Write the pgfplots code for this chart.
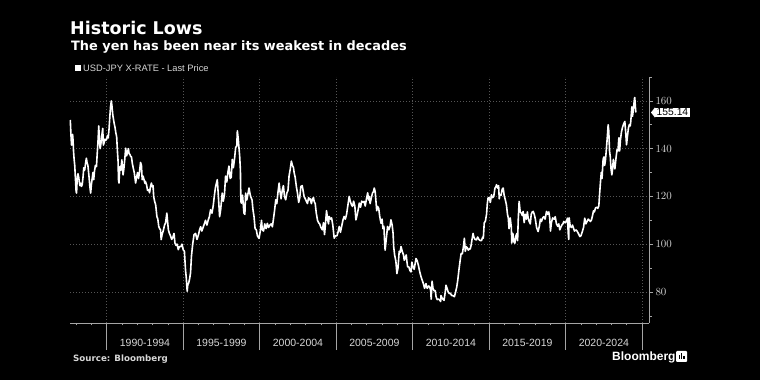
\documentclass[border=0pt]{standalone}
\usepackage{pgfplots}
\pgfplotsset{compat=1.18}
\usepackage{fontspec}
\setmainfont{Liberation Sans}
\newfontfamily\titlefont{DejaVu Sans}
\definecolor{gridc}{RGB}{85,85,85}
\definecolor{axc}{RGB}{165,165,165}
\definecolor{labc}{RGB}{215,215,215}
\pgfplotstableread{
x y
1987.62 152.0
1987.66 146.0
1987.70 141.5
1987.74 142.5
1987.77 146.0
1987.80 143.5
1987.83 139.0
1987.87 135.5
1987.91 133.0
1987.95 128.0
1988.00 122.0
1988.03 121.4
1988.07 127.5
1988.12 129.5
1988.17 128.0
1988.21 126.0
1988.25 124.5
1988.30 125.5
1988.35 124.2
1988.40 125.0
1988.45 128.0
1988.50 132.0
1988.56 131.0
1988.62 134.0
1988.67 136.0
1988.72 134.0
1988.77 133.0
1988.84 128.5
1988.90 124.0
1988.95 121.4
1989.00 125.0
1989.05 127.5
1989.10 130.0
1989.15 127.0
1989.20 130.5
1989.26 133.0
1989.33 132.5
1989.38 138.0
1989.43 143.0
1989.48 149.5
1989.52 144.0
1989.57 140.0
1989.62 142.0
1989.67 145.0
1989.74 148.5
1989.78 141.5
1989.83 142.5
1989.88 144.0
1989.93 143.5
1990.00 144.0
1990.05 145.5
1990.10 144.5
1990.15 148.0
1990.20 153.0
1990.25 157.5
1990.30 160.0
1990.34 158.0
1990.40 154.0
1990.45 152.0
1990.49 150.5
1990.54 149.0
1990.60 146.5
1990.65 145.0
1990.70 139.0
1990.74 135.0
1990.77 127.0
1990.80 125.6
1990.86 132.5
1990.92 131.0
1990.99 135.3
1991.03 132.0
1991.07 129.0
1991.12 131.5
1991.18 135.5
1991.24 140.2
1991.30 137.0
1991.36 138.5
1991.42 140.0
1991.46 138.0
1991.52 137.5
1991.57 136.7
1991.62 136.5
1991.67 134.0
1991.73 132.0
1991.80 130.0
1991.89 125.6
1991.95 128.0
1992.02 130.0
1992.08 127.5
1992.14 130.0
1992.21 134.2
1992.27 133.0
1992.32 127.0
1992.38 128.5
1992.44 127.0
1992.50 125.5
1992.53 126.3
1992.60 125.0
1992.67 122.5
1992.75 122.8
1992.80 121.5
1992.86 124.0
1992.92 125.6
1992.98 124.0
1993.03 124.5
1993.07 120.0
1993.13 118.0
1993.20 116.5
1993.28 111.6
1993.34 110.5
1993.40 107.5
1993.46 106.5
1993.52 106.0
1993.56 101.9
1993.62 104.0
1993.71 106.0
1993.78 108.0
1993.85 109.0
1993.93 113.0
1994.03 106.0
1994.10 104.5
1994.17 103.5
1994.25 102.0
1994.33 103.0
1994.40 104.5
1994.46 100.5
1994.53 99.5
1994.60 100.0
1994.68 97.7
1994.75 99.0
1994.85 99.0
1994.92 100.0
1995.00 97.7
1995.08 97.0
1995.15 89.3
1995.20 86.0
1995.26 80.3
1995.30 83.0
1995.36 83.8
1995.42 85.5
1995.48 88.0
1995.54 95.0
1995.62 100.0
1995.71 104.0
1995.81 104.5
1995.90 102.0
1996.00 104.0
1996.07 106.0
1996.14 107.3
1996.22 105.5
1996.30 107.0
1996.38 108.5
1996.46 110.0
1996.55 108.0
1996.63 110.0
1996.71 111.5
1996.79 114.4
1996.88 113.0
1996.96 116.0
1997.05 121.0
1997.12 124.2
1997.23 127.0
1997.30 120.0
1997.38 111.5
1997.45 114.5
1997.55 121.4
1997.62 118.0
1997.70 121.0
1997.77 128.5
1997.85 126.0
1997.92 130.0
1997.99 132.7
1998.07 127.5
1998.14 128.0
1998.21 135.5
1998.28 132.0
1998.36 136.0
1998.43 140.5
1998.50 141.0
1998.54 147.5
1998.60 144.0
1998.69 137.0
1998.74 131.0
1998.77 118.0
1998.80 117.2
1998.88 120.5
1998.97 113.0
1999.03 112.5
1999.08 121.4
1999.16 118.5
1999.23 121.0
1999.30 123.5
1999.37 121.0
1999.41 120.0
1999.50 118.5
1999.56 114.5
1999.63 111.5
1999.70 106.5
1999.78 106.0
1999.85 103.5
1999.96 102.4
2000.05 106.0
2000.12 110.0
2000.17 106.0
2000.25 105.5
2000.33 108.5
2000.42 106.5
2000.50 108.7
2000.58 107.0
2000.67 108.0
2000.75 108.5
2000.83 107.3
2000.92 111.5
2000.98 114.5
2001.05 118.6
2001.12 117.0
2001.20 122.0
2001.27 125.6
2001.33 122.0
2001.40 119.0
2001.48 122.8
2001.55 124.5
2001.62 120.0
2001.70 118.6
2001.78 121.5
2001.85 122.5
2001.92 128.5
2002.00 131.5
2002.07 134.8
2002.14 133.0
2002.21 132.0
2002.25 130.0
2002.32 128.0
2002.40 124.0
2002.47 121.4
2002.55 117.5
2002.62 119.5
2002.69 124.2
2002.78 124.5
2002.85 122.0
2002.90 120.0
2002.98 119.0
2003.05 118.0
2003.12 117.0
2003.20 119.5
2003.25 118.6
2003.30 119.0
2003.38 117.0
2003.45 119.0
2003.52 119.5
2003.56 117.9
2003.63 117.0
2003.70 113.0
2003.78 110.0
2003.85 109.0
2003.92 108.5
2004.00 107.0
2004.10 106.0
2004.17 109.0
2004.24 104.0
2004.28 107.0
2004.37 114.0
2004.45 110.0
2004.50 108.5
2004.54 111.6
2004.62 110.5
2004.70 111.0
2004.78 108.0
2004.87 102.5
2004.95 103.5
2005.05 103.5
2005.12 105.0
2005.20 107.4
2005.28 105.0
2005.36 107.5
2005.44 110.0
2005.52 111.6
2005.60 110.5
2005.68 112.5
2005.76 116.0
2005.85 120.0
2005.92 118.0
2006.00 116.5
2006.07 115.8
2006.14 118.0
2006.22 116.0
2006.29 110.2
2006.36 112.0
2006.44 114.5
2006.51 117.2
2006.59 115.5
2006.67 118.0
2006.75 117.5
2006.83 117.9
2006.90 116.0
2006.98 119.0
2007.06 121.5
2007.12 118.5
2007.16 120.0
2007.22 117.0
2007.30 119.5
2007.38 121.5
2007.44 122.0
2007.49 123.5
2007.55 122.0
2007.60 118.0
2007.65 114.0
2007.71 115.8
2007.78 115.0
2007.85 111.5
2007.93 108.8
2008.00 110.5
2008.06 106.5
2008.12 107.5
2008.17 100.5
2008.20 97.5
2008.28 102.5
2008.36 107.4
2008.44 106.0
2008.52 107.5
2008.58 110.2
2008.66 108.0
2008.72 104.5
2008.76 99.0
2008.82 95.5
2008.90 93.0
2008.97 87.7
2009.04 90.0
2009.12 97.0
2009.18 96.5
2009.24 99.0
2009.32 97.0
2009.40 95.5
2009.45 93.3
2009.52 94.5
2009.58 95.5
2009.62 93.0
2009.67 90.5
2009.75 90.5
2009.82 89.0
2009.89 88.4
2009.95 92.5
2010.02 90.5
2010.10 89.5
2010.18 92.5
2010.22 94.0
2010.30 93.0
2010.38 91.0
2010.46 88.5
2010.55 86.3
2010.62 85.0
2010.70 83.5
2010.78 81.5
2010.87 83.5
2010.95 81.5
2011.05 82.5
2011.12 82.0
2011.18 80.5
2011.21 77.0
2011.27 84.5
2011.33 81.5
2011.40 80.5
2011.48 80.5
2011.53 78.0
2011.60 76.8
2011.67 77.0
2011.75 76.8
2011.83 76.0
2011.85 78.5
2011.92 77.5
2011.98 77.0
2012.05 76.5
2012.12 79.5
2012.18 82.8
2012.25 81.5
2012.32 80.0
2012.40 79.3
2012.46 79.5
2012.55 78.5
2012.62 78.5
2012.73 78.0
2012.80 79.8
2012.88 82.0
2012.95 85.0
2013.03 89.5
2013.10 93.0
2013.17 96.1
2013.25 96.0
2013.32 99.0
2013.38 102.5
2013.44 97.0
2013.50 99.0
2013.57 98.5
2013.64 97.5
2013.70 98.0
2013.76 98.0
2013.82 99.5
2013.88 102.0
2013.95 104.5
2014.00 103.0
2014.08 102.0
2014.17 101.8
2014.25 103.0
2014.33 102.0
2014.42 101.5
2014.50 101.5
2014.58 103.0
2014.62 102.5
2014.68 109.0
2014.75 109.5
2014.83 112.5
2014.88 117.0
2014.93 119.3
2015.00 119.5
2015.08 117.5
2015.15 120.7
2015.22 119.5
2015.30 120.0
2015.38 123.5
2015.44 124.0
2015.48 124.9
2015.55 123.5
2015.62 124.5
2015.66 119.0
2015.70 120.7
2015.78 120.5
2015.85 123.0
2015.92 123.5
2015.98 120.5
2016.06 118.5
2016.13 116.5
2016.20 112.5
2016.25 111.0
2016.30 106.5
2016.38 111.0
2016.45 107.0
2016.48 100.5
2016.55 104.5
2016.62 101.0
2016.68 100.4
2016.75 103.5
2016.82 104.5
2016.86 101.5
2016.90 110.0
2016.96 117.9
2017.03 113.5
2017.10 113.0
2017.17 112.0
2017.22 113.7
2017.29 109.0
2017.36 112.5
2017.43 110.5
2017.50 113.5
2017.55 110.9
2017.62 109.5
2017.69 108.5
2017.75 112.5
2017.82 113.5
2017.88 113.7
2017.95 112.5
2018.02 110.5
2018.10 107.0
2018.20 105.3
2018.28 107.5
2018.35 110.5
2018.42 109.5
2018.50 111.0
2018.58 111.5
2018.66 110.5
2018.75 113.7
2018.83 112.5
2018.90 113.5
2018.96 111.0
2019.01 105.5
2019.07 109.0
2019.15 111.0
2019.25 110.5
2019.32 111.5
2019.40 108.5
2019.48 107.5
2019.55 108.5
2019.62 106.0
2019.68 107.0
2019.75 108.0
2019.82 108.5
2019.88 109.5
2019.96 109.0
2020.05 109.5
2020.12 110.9
2020.17 104.5
2020.20 102.0
2020.23 111.0
2020.30 107.5
2020.38 107.0
2020.45 108.0
2020.50 107.0
2020.58 105.5
2020.66 106.0
2020.75 105.5
2020.83 104.5
2020.93 103.2
2021.00 103.5
2021.08 105.0
2021.17 107.0
2021.25 110.9
2021.32 108.5
2021.40 109.5
2021.48 110.5
2021.55 110.0
2021.62 109.5
2021.69 110.2
2021.76 112.0
2021.82 114.0
2021.88 113.5
2021.95 115.1
2022.02 115.5
2022.10 115.0
2022.17 116.0
2022.22 121.0
2022.28 126.2
2022.33 130.0
2022.38 127.5
2022.45 135.5
2022.50 136.5
2022.55 133.0
2022.60 135.0
2022.66 139.5
2022.72 144.5
2022.78 150.0
2022.82 147.5
2022.87 139.0
2022.92 136.5
2022.96 132.0
2023.02 129.0
2023.06 131.0
2023.12 135.5
2023.17 133.0
2023.22 131.5
2023.30 136.5
2023.36 139.5
2023.42 139.0
2023.48 144.5
2023.53 139.0
2023.58 143.5
2023.65 147.0
2023.72 149.0
2023.80 150.5
2023.87 151.4
2023.93 146.5
2023.98 141.6
2024.03 144.5
2024.10 148.5
2024.16 150.0
2024.22 149.5
2024.26 151.5
2024.30 155.0
2024.33 157.5
2024.37 153.5
2024.41 155.5
2024.46 158.5
2024.50 161.0
2024.52 161.4
2024.56 157.5
2024.59 155.14
}\usdjpy
\begin{document}
\begin{tikzpicture}
\useasboundingbox (0,0) rectangle (760bp,380bp);
\fill[black] (0,0) rectangle (760bp,380bp);
% titles
\node[anchor=base west, text=white, inner sep=0] at (70bp,345bp) {\titlefont\bfseries\fontsize{17.5bp}{20bp}\selectfont Historic Lows};
\node[anchor=base west, text=white, inner sep=0] at (71bp,329.5bp) {\titlefont\bfseries\fontsize{12.9bp}{15bp}\selectfont The yen has been near its weakest in decades};
\fill[white] (75bp,309bp) rectangle (81bp,315bp);
\node[anchor=base west, text=labc, inner sep=0] at (83bp,308.5bp) {\fontsize{9.3bp}{11bp}\selectfont USD-JPY X-RATE - Last Price};
\node[anchor=base west, text=labc, inner sep=0] at (73bp,19bp) {\titlefont\bfseries\fontsize{8.7bp}{10bp}\selectfont Source: Bloomberg};
\node[anchor=base west, text=white, inner sep=0] at (612bp,20bp) {\bfseries\fontsize{12bp}{14bp}\selectfont Bloomberg};
\fill[white, rounded corners=1bp] (676bp,18bp) rectangle (687bp,29bp);
\fill[black] (678.5bp,21bp) rectangle (679.7bp,25bp);
\fill[black] (680.9bp,21bp) rectangle (682.1bp,27bp);
\fill[black] (683.3bp,21bp) rectangle (684.5bp,24bp);
% long major x ticks
\begin{axis}[
  at={(70bp,57bp)}, anchor=south west,
  scale only axis, width=579bp, height=246bp,
  xmin=1987.6, xmax=2025.45, ymin=67, ymax=170,
  axis x line*=bottom, axis y line=none,
  axis line style={draw=axc, line width=0.8bp},
  xtick={1990,1995,...,2025}, xticklabels={},
  major tick length=27bp, tick align=outside,
  xtick style={draw=axc, line width=0.8bp},
  minor xtick={}, 
]
\end{axis}
\begin{axis}[
  at={(70bp,57bp)}, anchor=south west,
  scale only axis, width=579bp, height=246bp,
  xmin=1987.6, xmax=2025.45, ymin=67, ymax=170,
  axis x line*=bottom, axis y line*=right,
  axis line style={draw=axc, line width=0.8bp},
  clip=false,
  tick align=outside,
  major tick length=4bp, minor tick length=2.5bp,
  xtick={1992.5,1997.5,...,2022.5},
  xticklabels={1990-1994,1995-1999,2000-2004,2005-2009,2010-2014,2015-2019,2020-2024},
  xtick style={draw=none},
  minor xtick={1988,1989,...,2025},
  minor x tick style={draw=axc, line width=0.6bp},
  extra x ticks={1990,1995,...,2025},
  extra x tick labels={},
  extra x tick style={grid=major, xtick style={draw=none}},
  ytick={80,100,...,160},
  minor ytick={70,90,...,170},
  ytick style={draw=axc, line width=0.7bp},
  minor y tick style={draw=axc, line width=0.6bp},
  ymajorgrids,
  grid style={draw=gridc, line width=0.6bp, dash pattern=on 1bp off 2bp},
  yticklabel pos=right,
  xticklabel style={text=labc, font=\fontsize{10.5bp}{12bp}\selectfont, yshift=-9bp},
  yticklabel style={text=labc, font=\fontsize{10.5bp}{12bp}\selectfont, xshift=-1bp},
]
\addplot[white, line width=1.6bp, line join=round] table[x=x, y=y] {\usdjpy};
\node[fill=white, text=black, anchor=west, inner xsep=1.5bp, inner ysep=1.3bp, font=\fontsize{10.3bp}{12bp}\selectfont, xshift=6bp] (lbl) at (axis cs:2025.45,155.14) {155.14};
\fill[white] (lbl.north west) -- ([xshift=-4bp]lbl.west) -- (lbl.south west) -- cycle;
\end{axis}
\end{tikzpicture}
\end{document}
